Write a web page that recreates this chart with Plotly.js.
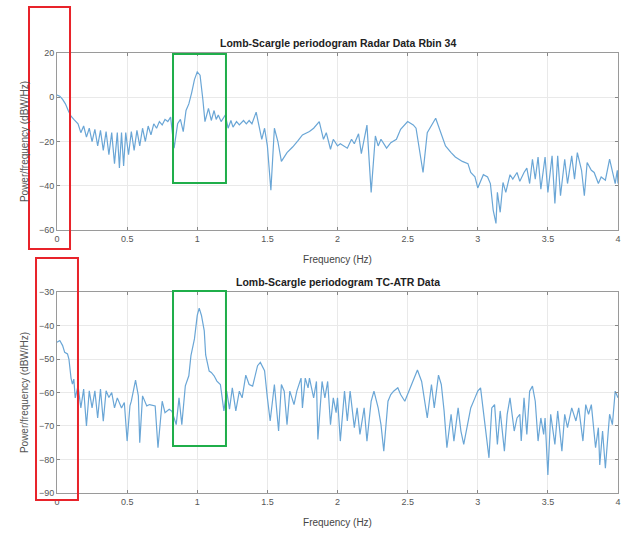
<!DOCTYPE html>
<html>
<head>
<meta charset="utf-8">
<script src="https://cdn.plot.ly/plotly-3.0.1.min.js"></script>
<style>html,body{margin:0;padding:0;background:#fff;}#chart{width:628px;height:535px;}</style>
</head>
<body>
<div id="chart"></div>
<script>
// Radar Data Rbin 34 (top panel)
const radarFreq = [0.00,0.02,0.04,0.06,0.08,0.10,0.12,0.14,0.15,0.17,0.19,0.21,0.23,0.25,0.27,0.29,0.31,0.33,0.35,0.37,0.39,0.41,0.43,0.445,0.46,0.475,0.49,0.51,0.53,0.55,0.57,0.59,0.61,0.63,0.65,0.67,0.69,0.71,0.73,0.75,0.77,0.79,0.81,0.835,0.86,0.88,0.90,0.92,0.94,0.96,0.98,1.00,1.02,1.04,1.055,1.08,1.10,1.12,1.135,1.15,1.17,1.20,1.22,1.24,1.255,1.28,1.30,1.33,1.35,1.37,1.39,1.42,1.46,1.48,1.50,1.525,1.55,1.575,1.60,1.64,1.68,1.72,1.75,1.80,1.83,1.87,1.90,1.92,1.95,1.97,2.00,2.02,2.05,2.07,2.10,2.12,2.15,2.17,2.21,2.24,2.27,2.29,2.31,2.35,2.38,2.42,2.45,2.50,2.54,2.56,2.61,2.64,2.70,2.73,2.77,2.81,2.84,2.89,2.93,2.95,2.98,3.00,3.02,3.04,3.07,3.09,3.11,3.13,3.14,3.16,3.18,3.20,3.23,3.25,3.28,3.30,3.33,3.35,3.37,3.39,3.41,3.43,3.45,3.48,3.50,3.53,3.55,3.57,3.59,3.62,3.64,3.67,3.69,3.71,3.74,3.76,3.78,3.81,3.83,3.86,3.88,3.91,3.94,3.96,3.98,3.995,4.00];
const radarPower = [1,0.5,-1,-3,-6,-8.5,-10,-11.5,-12,-16,-13,-18,-14,-20,-14.5,-22,-15,-24,-15.5,-26,-16,-30,-16,-32,-16,-31,-16,-26,-15.5,-24,-15,-22,-14,-20,-13,-17,-12,-14,-11,-12.5,-10,-11,-9,-23,-12,-10,-15.5,-6,-3,2,8,11.5,10,-1,-11,-5,-10.5,-6,-10,-8,-11,-8,-14,-10.5,-13.5,-11,-12.5,-10.5,-12,-10.5,-12,-6.7,-19,-14,-22,-42,-14,-20,-29,-25,-22.5,-19.5,-17,-15.5,-14,-11,-19,-16,-23.5,-19,-22,-21,-22,-23,-19,-21,-16.5,-25.5,-12.6,-43,-17.5,-22,-19,-23,-20.5,-19,-14.5,-11,-12.5,-14,-34,-16,-9.5,-14.5,-22,-25,-27,-29,-30,-34,-36,-41,-38,-35,-36,-39,-51,-57,-43,-52,-38.5,-43,-35,-37,-34,-38,-34,-32,-39,-28,-37,-27,-41.5,-27,-43,-26.5,-48,-26.5,-44.5,-28,-39,-26.5,-37,-25,-33,-44.5,-29.5,-33,-34,-39,-36,-37.5,-28,-34,-39,-33,-39];

// TC-ATR Data (bottom panel)
const atrFreq = [0.00,0.02,0.04,0.055,0.075,0.085,0.10,0.11,0.12,0.13,0.15,0.17,0.19,0.21,0.23,0.25,0.27,0.29,0.31,0.33,0.35,0.37,0.39,0.41,0.43,0.46,0.48,0.50,0.52,0.53,0.56,0.58,0.59,0.61,0.64,0.66,0.70,0.72,0.75,0.77,0.80,0.82,0.85,0.87,0.89,0.915,0.94,0.955,0.98,1.00,1.014,1.03,1.05,1.06,1.085,1.10,1.12,1.14,1.165,1.19,1.21,1.23,1.25,1.275,1.30,1.32,1.346,1.37,1.395,1.43,1.45,1.48,1.50,1.52,1.55,1.58,1.60,1.62,1.64,1.66,1.69,1.71,1.74,1.75,1.77,1.79,1.80,1.83,1.85,1.86,1.89,1.91,1.93,1.95,1.97,1.99,2.00,2.02,2.05,2.07,2.09,2.12,2.14,2.16,2.19,2.21,2.24,2.26,2.29,2.31,2.33,2.36,2.38,2.40,2.43,2.45,2.48,2.50,2.54,2.57,2.60,2.62,2.64,2.67,2.69,2.72,2.74,2.76,2.78,2.81,2.83,2.86,2.88,2.90,2.93,2.95,2.98,3.00,3.02,3.05,3.08,3.10,3.12,3.14,3.16,3.19,3.21,3.23,3.26,3.28,3.30,3.31,3.33,3.35,3.37,3.39,3.41,3.43,3.45,3.47,3.48,3.50,3.52,3.55,3.57,3.60,3.62,3.64,3.67,3.70,3.72,3.75,3.77,3.79,3.81,3.84,3.86,3.87,3.89,3.91,3.94,3.96,3.98,4.00];
const atrPower = [-45,-44.5,-46,-48,-48.5,-50,-55.7,-57.5,-56,-61.6,-58,-64.6,-59,-70,-59.5,-64.6,-59.5,-67.6,-59,-68.6,-59.5,-61.5,-60,-64.6,-61.6,-64.6,-63,-74.5,-64,-62.6,-56.3,-61,-75,-61,-64,-63.6,-64,-76.5,-62.6,-66,-65,-65.6,-69.6,-61.6,-69.6,-58,-55,-49,-44,-37,-34.8,-37,-41.6,-48.8,-53.6,-54,-55,-56.6,-57.6,-65.5,-59.6,-65,-58.6,-65.5,-59.6,-61.6,-54.8,-57.6,-58.1,-52,-51,-53.5,-61.6,-68.5,-57.6,-71.5,-57.6,-59.6,-69.6,-59.6,-63.6,-59.6,-55.7,-64.6,-55.7,-58.6,-55.7,-61.6,-56.7,-74,-56.7,-61.6,-56.7,-69.6,-61.6,-66,-61.6,-74.5,-59.6,-68.5,-59.6,-70.5,-64.6,-72.5,-64.6,-74.5,-62.6,-59.6,-64.6,-69.6,-77.5,-62.6,-60.6,-59.6,-58.6,-60.6,-62.6,-60.6,-56.7,-53.3,-56.7,-61.6,-67.6,-57.6,-64.6,-54.8,-57.6,-65.5,-76.5,-66.5,-74.5,-64.6,-71.5,-75.5,-68.5,-64.6,-61.6,-59.6,-58.6,-68.5,-79.5,-64.6,-63.6,-75.5,-65.5,-77.5,-66.5,-61.6,-71.5,-67.6,-66.5,-74.5,-61.6,-72.5,-59.6,-58.1,-62.6,-74.5,-67.6,-72.5,-67.6,-84.6,-66.5,-75.5,-65.5,-77.5,-66.5,-70.5,-64.6,-68.5,-64.6,-74.5,-63.6,-66.5,-63.6,-76.5,-70.5,-81.6,-71.5,-82.6,-66.5,-69.6,-59.6,-61.6];

const xTicks = [0,0.5,1,1.5,2,2.5,3,3.5,4];
const xTickText = ['0','0.5','1','1.5','2','2.5','3','3.5','4'];
const radarTicks = [-60,-40,-20,0,20];
const atrTicks = [-90,-80,-70,-60,-50,-40,-30];
const topTitle = 'Lomb-Scargle periodogram Radar Data Rbin 34';
const bottomTitle = 'Lomb-Scargle periodogram TC-ATR Data';
const xLabel = 'Frequency (Hz)';
const yLabel = 'Power/frequency (dBW/Hz)';

const FONT = 'Liberation Sans, Arial, sans-serif';
const lineColor = '#6aa6d6';

const traces = [
  {x: radarFreq, y: radarPower, type: 'scatter', mode: 'lines', xaxis: 'x2', yaxis: 'y2',
   line: {color: lineColor, width: 1.2}, hoverinfo: 'skip'},
  {x: atrFreq, y: atrPower, type: 'scatter', mode: 'lines', xaxis: 'x', yaxis: 'y',
   line: {color: lineColor, width: 1.2}, hoverinfo: 'skip'}
];

function xAx(anchor) {
  return {
    anchor: anchor, domain: [0, 1], range: [0, 4],
    tickmode: 'array', tickvals: xTicks, ticktext: xTickText,
    ticks: 'inside', ticklen: 3, tickcolor: '#888',
    showline: true, mirror: 'ticks', linecolor: '#9a9a9a', linewidth: 1,
    showgrid: true, gridcolor: '#e9e9e9', zeroline: false,
    tickfont: {family: FONT, size: 9, color: '#555'},
    title: {text: xLabel, font: {family: FONT, size: 10, color: '#444'}, standoff: 13}
  };
}
function yAx(anchor, domain, range, ticks) {
  return {
    anchor: anchor, domain: domain, range: range,
    tickmode: 'array', tickvals: ticks,
    ticks: 'inside', ticklen: 3, tickcolor: '#888',
    showline: true, mirror: 'ticks', linecolor: '#9a9a9a', linewidth: 1,
    showgrid: true, gridcolor: '#e9e9e9', zeroline: false,
    tickfont: {family: FONT, size: 9, color: '#555'},
    title: {text: yLabel, font: {family: FONT, size: 10, color: '#555'}, standoff: 8}
  };
}

const layout = {
  width: 628, height: 535,
  margin: {l: 57, r: 10, t: 53, b: 42},
  paper_bgcolor: '#fff', plot_bgcolor: '#fff',
  showlegend: false,
  xaxis: xAx('y'),
  yaxis: yAx('x', [0, 0.4568], [-90, -30], atrTicks),
  xaxis2: xAx('y2'),
  yaxis2: yAx('x2', [0.5977, 1], [-60, 20], radarTicks),
  annotations: [
    {text: '<b>' + topTitle + '</b>', xref: 'paper', yref: 'paper', x: 0.5, y: 1.0, yshift: 10,
     xanchor: 'center', yanchor: 'middle', showarrow: false, font: {family: FONT, size: 10.5, color: '#222'}},
    {text: '<b>' + bottomTitle + '</b>', xref: 'paper', yref: 'paper', x: 0.5, y: 0.4568, yshift: 10,
     xanchor: 'center', yanchor: 'middle', showarrow: false, font: {family: FONT, size: 10.5, color: '#222'}}
  ],
  shapes: [
    {type: 'rect', xref: 'paper', yref: 'paper', x0: -0.0499, x1: 0.0232, y0: 0.5545, y1: 1.1045,
     line: {color: '#e8232a', width: 2}},
    {type: 'rect', xref: 'paper', yref: 'paper', x0: -0.0374, x1: 0.0374, y0: -0.0159, y1: 0.534,
     line: {color: '#e8232a', width: 2}},
    {type: 'rect', xref: 'paper', yref: 'paper', x0: 0.2068, x1: 0.3012, y0: 0.7045, y1: 0.9977,
     line: {color: '#1fae4a', width: 2}},
    {type: 'rect', xref: 'paper', yref: 'paper', x0: 0.2068, x1: 0.3012, y0: 0.1068, y1: 0.459,
     line: {color: '#1fae4a', width: 2}}
  ]
};

Plotly.newPlot('chart', traces, layout, {displayModeBar: false, staticPlot: true});
</script>
</body>
</html>
